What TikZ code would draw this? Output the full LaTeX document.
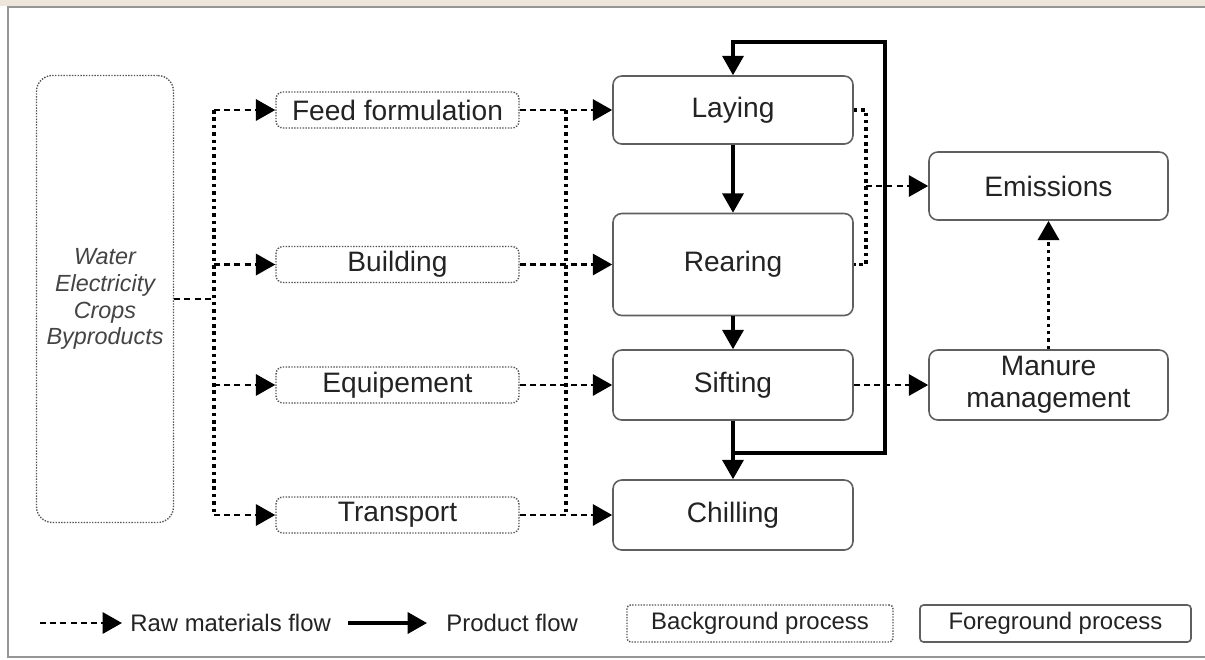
\documentclass[tikz,border=0pt]{standalone}
\usepackage{fontspec}
\setmainfont{Liberation Sans}
\usetikzlibrary{arrows.meta, positioning}
\definecolor{framegray}{RGB}{150, 150, 150}
\definecolor{boxgray}{RGB}{95, 95, 95}
\definecolor{dotgray}{RGB}{85, 85, 85}
\definecolor{inkgray}{RGB}{35, 35, 35}
\definecolor{papertan}{RGB}{238, 230, 218}

\begin{document}
\begin{tikzpicture}[
  % foreground and background process boxes
  fgbox/.style={draw=boxgray, line width=0.9pt, rounded corners=5pt, minimum width=4.8cm,
    text=inkgray, font=\fontsize{16}{18}\selectfont, align=center, inner sep=0pt},
  bgbox/.style={draw=dotgray, line width=0.8pt, dash pattern=on 0.8pt off 0.8pt, rounded corners=4pt,
    minimum width=4.86cm, minimum height=0.72cm, text=inkgray, font=\fontsize{16}{18}\selectfont, inner sep=0pt},
  % flows
  rawline/.style={line width=1.6pt, dash pattern=on 3.4pt off 2.4pt},
  rawflow/.style={rawline, -{Triangle[length=11pt, width=12pt]}},
  rawbus/.style={line width=2pt, dash pattern=on 2pt off 2.2pt},
  prodflow/.style={line width=1.8pt, -{Triangle[length=11pt, width=12pt]}},
  legtext/.style={text=inkgray, font=\fontsize{13.6}{15}\selectfont, inner sep=0pt}
]
  \useasboundingbox (0, 0) rectangle (24.1, -13.18);

  % Paper and frame
  \fill[papertan] (0, 0) rectangle (24.1, -0.12);
  \draw[framegray, line width=1.6pt, fill=white] (0.16, -0.14) rectangle (24.5, -13.14);

  % Inputs
  \node[draw=dotgray, line width=0.8pt, dash pattern=on 0.8pt off 0.8pt, rounded corners=9pt,
    minimum width=2.74cm, minimum height=8.94cm, align=center, inner sep=0pt,
    text=inkgray!85, font=\itshape\fontsize{13.3}{15.3}\selectfont] (src) at (2.10, -5.98)
    {Water\\Electricity\\Crops\\Byproducts};

  % Background processes
  \node[bgbox] (feed) at (7.95, -2.20) {Feed formulation};
  \node[bgbox] (build) at (7.95, -5.29) {Building};
  \node[bgbox] (equip) at (7.95, -7.70) {Equipement};
  \node[bgbox] (transp) at (7.95, -10.30) {Transport};

  % Foreground processes
  \node[fgbox, minimum height=1.36cm] (laying) at (14.66, -2.20) {Laying};
  \node[fgbox, minimum height=2.04cm] (rearing) at (14.66, -5.29) {Rearing};
  \node[fgbox, minimum height=1.40cm] (sifting) at (14.66, -7.70) {Sifting};
  \node[fgbox, minimum height=1.40cm] (chilling) at (14.66, -10.30) {Chilling};
  \node[fgbox, minimum height=1.36cm, minimum width=4.78cm] (emis) at (20.97, -3.72) {Emissions};
  \node[fgbox, minimum height=1.40cm, minimum width=4.78cm] (manure) at (20.97, -7.70) {Manure\\management};

  % Bus lines
  \coordinate (bus1) at (4.28, 0);
  \coordinate (bus2) at (11.32, 0);
  \coordinate (tap) at (17.32, 0);
  \coordinate (split) at (14.66, -9.06);
  \coordinate (loopR) at (17.70, -0.84);

  % Raw materials into background processes
  \draw[rawline] (src.east) -- (src.east -| bus1);
  \draw[rawbus] (bus1 |- feed.west) -- (bus1 |- transp.west);
  \draw[rawflow] (bus1 |- feed.west) -- (feed.west);
  \draw[rawflow] (bus1 |- build.west) -- (build.west);
  \draw[rawflow] (bus1 |- equip.west) -- (equip.west);
  \draw[rawflow] (bus1 |- transp.west) -- (transp.west);

  % Background into foreground
  \draw[rawbus] (bus2 |- feed.east) -- (bus2 |- transp.east);
  \draw[rawflow] (feed.east) -- (laying.west);
  \draw[rawflow] (build.east) -- (rearing.west);
  \draw[rawflow] (equip.east) -- (sifting.west);
  \draw[rawflow] (transp.east) -- (chilling.west);

  % Product flow
  \draw[prodflow] (laying) -- (rearing);
  \draw[prodflow] (rearing) -- (sifting);
  \draw[prodflow] (sifting) -- (chilling);
  \draw[prodflow] (split) -| (loopR) -| (laying.north);

  % Emissions and manure
  \draw[rawbus] (laying.east) -| (tap |- rearing.east) -- (rearing.east);
  \draw[rawflow] (tap |- emis.west) -- (emis.west);
  \draw[rawflow] (sifting) -- (manure);
  \draw[rawbus, -{Triangle[length=11pt, width=12pt]}] (manure) -- (emis);

  % Legend
  \coordinate (lgA) at (0.80, -12.46);
  \coordinate (lgB) at (6.96, -12.46);
  \node[legtext, anchor=west] (lgraw) at (2.60, -12.46) {Raw materials flow};
  \node[legtext, anchor=west] (lgprod) at (8.92, -12.46) {Product flow};
  \draw[rawflow, shorten >=0.16cm] (lgA) -- (lgraw.west);
  \draw[prodflow, shorten >=0.38cm] (lgB) -- (lgprod.west);
  \node[bgbox, minimum width=5.32cm, minimum height=0.74cm, rounded corners=2pt,
    font=\fontsize{13.6}{15}\selectfont] (lgbg) at (15.20, -12.47) {Background process};
  \node[fgbox, minimum width=5.42cm, minimum height=0.74cm, rounded corners=2pt,
    font=\fontsize{13.6}{15}\selectfont] (lgfg) at (21.11, -12.47) {Foreground process};
\end{tikzpicture}
\end{document}
